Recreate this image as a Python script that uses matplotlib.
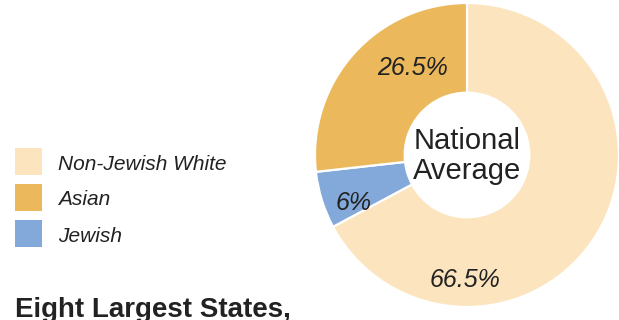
import matplotlib.pyplot as plt
from matplotlib.patches import Rectangle

# Population shares, national average
categories = ["Non-Jewish White", "Jewish", "Asian"]
shares = [66.5, 6, 26.5]
share_labels = ["66.5%", "6%", "26.5%"]
legend_order = ["Non-Jewish White", "Asian", "Jewish"]

colors = {
    "Non-Jewish White": "#FCE4BE",
    "Asian": "#EBB95B",
    "Jewish": "#83A9DA",
}

plt.rcParams['font.family'] = ['Liberation Sans', 'DejaVu Sans']
TEXT = "#222222"

W, H = 619, 320
fig = plt.figure(figsize=(W / 100, H / 100), dpi=100)

# Donut: centre (467, 155) px, outer radius 152 px
cx, cy, R = 467, 155, 152
ax = fig.add_axes([(cx - R) / W, (H - cy - R) / H, 2 * R / W, 2 * R / H])
ax.pie(shares, colors=[colors[c] for c in categories], startangle=90,
       counterclock=False, radius=1.0,
       wedgeprops=dict(width=0.59, edgecolor="white", linewidth=1.6))
ax.set_xlim(-1, 1)
ax.set_ylim(-1, 1)
ax.axis("off")

# label anchors (centre x, baseline y) in donut radius units
label_pos = {
    "Non-Jewish White": (-0.013, -0.868),
    "Jewish": (-0.747, -0.362),
    "Asian": (-0.355, 0.526),
}
for cat, lab in zip(categories, share_labels):
    x, y = label_pos[cat]
    ax.text(x, y, lab, ha="center", va="baseline", fontsize=18,
            style="italic", color=TEXT)

ax.text(0, (cy - 149) / R, "National", ha="center", va="baseline",
        fontsize=21, color=TEXT)
ax.text(0, (cy - 179) / R, "Average", ha="center", va="baseline",
        fontsize=21, color=TEXT)

# Legend
sq = 27
baselines = [170, 205, 242]
for i, cat in enumerate(legend_order):
    top = 148 + i * 36
    fig.patches.append(Rectangle((15 / W, (H - top - sq) / H), sq / W, sq / H,
                                 transform=fig.transFigure,
                                 facecolor=colors[cat], edgecolor="none"))
    fig.text(58 / W, (H - baselines[i]) / H, cat, ha="left", va="baseline",
             fontsize=15, style="italic", color=TEXT)

fig.text(15 / W, (H - 317) / H, "Eight Largest States,", ha="left",
         va="baseline", fontsize=20, fontweight="bold", color=TEXT)

fig.savefig("out.png", dpi=100, facecolor="white")
